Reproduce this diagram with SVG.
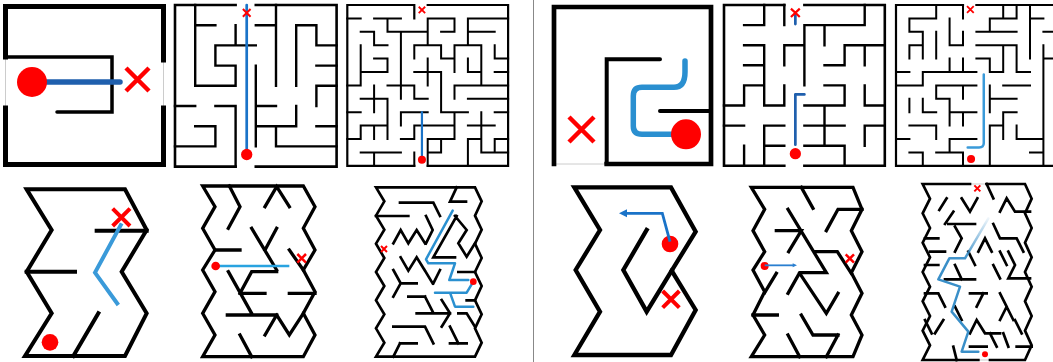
<svg xmlns="http://www.w3.org/2000/svg" width="1053" height="362" viewBox="0 0 1053 362">
<style>
.w{fill:none;stroke:#000;stroke-linecap:square;stroke-linejoin:miter;vector-effect:non-scaling-stroke}
.r{fill:none;stroke:#000;stroke-linecap:round;stroke-linejoin:miter;vector-effect:non-scaling-stroke}
.x{fill:none;stroke:#f00;stroke-linecap:butt;vector-effect:non-scaling-stroke}
.dot{fill:#f00}
.p{fill:none;stroke-linecap:round;stroke-linejoin:round;vector-effect:non-scaling-stroke}
.g{fill:none;stroke:#ccc;stroke-width:1;vector-effect:non-scaling-stroke}
</style>
<defs>
<linearGradient id="fade" gradientUnits="userSpaceOnUse" x1="0" y1="110" x2="0" y2="240">
<stop offset="0" stop-color="#3a8fc8" stop-opacity="0.05"/>
<stop offset="1" stop-color="#3a8fc8" stop-opacity="1"/>
</linearGradient>
</defs>
<rect width="1053" height="362" fill="#fff"/>
<line id="sep" x1="533.5" y1="0" x2="533.5" y2="362" stroke="#888" stroke-width="1"/>

<g id="m1">
<path class="g" d="M5.5 57V108M163.5 60V108"/>
<path class="w" stroke-width="5" d="M5.5 57V6.5H163.5V60M163.5 108V164.5H5.5V108"/>
<path class="r" stroke-width="3.5" d="M5.5 57H112V112H57"/>
<path class="p" stroke="#1f5fad" stroke-width="5.5" d="M32 82H120"/>
<circle class="dot" cx="32" cy="82" r="15"/>
<path class="x" stroke-width="4.5" d="M126 68L149 91M149 68L126 91"/>
</g>

<g id="m2" transform="translate(175 5) scale(20.2)">
<path class="w" stroke-width="2.6" d="M3 0H0V8H3M4 8H8V0H4"/>
<path class="w" stroke-width="2.4" d="M1 0V4H3V3H2V2H4M3 1V2M1 1H2M5 0V4M4 1H5M4 3V7M6 1V4M6 1H7V2H8M7 3H8M7 4H8M7 4V5M0 5H1M2 5H3V8M1 6H2V7M0 7H2M4 5H5M6 5V6H4M5 6V7H8M7 6H8"/>
<path class="p" stroke="#1a73c8" stroke-width="2.7" d="M3.55 0V7.4"/>
<circle class="dot" cx="3.55" cy="7.4" r="0.28"/>
<path class="x" stroke-width="2" d="M3.36 .2L3.74 .58M3.74 .2L3.36 .58"/>
</g>

<g id="m3" transform="translate(347.3 5) scale(13.4)">
<path class="w" stroke-width="2.2" d="M5 0H0V12H5M6 12H12V0H6M5 0V1"/>
<path class="w" stroke-width="2" d="M0 1H1M2 1H4M6 1H8M9 1H12M3 1V2M6 1V3M8 1V2M9 1V3M1 2H2M3 2H6M7 2H8M9 2H11M2 2V3H3M4 2V7M1 3V6M5 3H7M5 3V4M7 3V4H8M8 3H10M8 3V5M10 3V6M11 3V4H12M2 4H3V5M9 4V5H10M6 4V6M1 5H3M5 5H7M11 5H12M0 6H1M3 6H5M8 6H12M7 5V8M8 6V7M1 7H3M2 6V8M5 6V7H6M9 7H12M3 7V10M0 8H1M4 8H6M7 8H9M11 8H12M4 8V9M8 8V10M1 9H3M5 9H8M9 9H11M1 9V10H0M2 9V10M5 9V10H4M10 8V11M6 10H8M9 10H10M11 10H12M11 10V11M7 10V11M1 11H4M6 11H7M10 11H12M2 11V12M9 10V12M5 11V12M6 10V12"/>
<path class="p" stroke="#1a73c8" stroke-width="2.2" d="M5.57 8V11.4"/>
<circle class="dot" cx="5.57" cy="11.55" r="0.3"/>
<path class="x" stroke-width="1.8" d="M5.33 .13L5.81 .61M5.81 .13L5.33 .61"/>
</g>

<g id="m4">
<path class="g" d="M554 164H606.7"/>
<path class="w" stroke-width="4.7" d="M554 164V7H711V164H606.7"/>
<path class="r" stroke-width="4" d="M606.7 164V59.3H660M660 111H711"/>
<path class="p" stroke="#2a8fd0" stroke-width="5.5" d="M686 134.3H642Q633.3 134.3 633.3 126V96Q633.3 87.3 642 87.3H674Q685 87.3 685 72V61"/>
<circle class="dot" cx="686" cy="134.3" r="15"/>
<path class="x" stroke-width="4.5" d="M569 117L594 142M594 117L569 142"/>
</g>

<g id="m5" transform="translate(724 5) scale(20.1)">
<path class="w" stroke-width="2.6" d="M3 0H0V8H3M4 8H8V0H4"/>
<path class="w" stroke-width="2.4" d="M2 0V1H1M3 0V1M4 1H7V0M4 1V4M5 1V2M1 2H2M3 2H4M6 2H8M2 2V5H3V4M3 2V3M1 3H2M5 3H6V2M7 2V3M1 4H2M1 4V5H0M5 4H6V5M4 5H6M5 5V7M7 4V5H8M0 6H1M2 6H3M4 6H6M7 6H8M2 6V8M2 7H3M1 7V8M4 7H6V8M7 6V7"/>
<path class="p" stroke="#1f5fad" stroke-width="2.7" d="M3.55 6.95V4.45H4M3.55 .5V.95"/>
<circle class="dot" cx="3.55" cy="7.4" r="0.28"/>
<path class="x" stroke-width="2.2" d="M3.33 .18L3.77 .6M3.77 .18L3.33 .6"/>
</g>

<g id="m6" transform="translate(896 5) scale(13.4)">
<path class="w" stroke-width="2.2" d="M5 0H0V12H12.6M6 0H12.6"/>
<path class="w" stroke-width="2" d="M5 0V1M3 0V1H1V2H2M4 1V3H5V2M7 1H9M8 0V1M9 0V1M7 1V2M10 0V4M10 1H11M6 2H9M11 2H12.6M2 2V4M3 2V4M1 3H2M6 3H9M11 3V12M8 3V5M1 3V4M4 4V5M5 4V5M6 4H7V5M9 3V5M11 4H12.6M0 5H1M2 5H6M7 5H8M9 5H10M2 5V6H0M3 6H6M3 6V7H4V9M5 6V7M7 6V8M8 6H10M7 7H9M1 7V8M2 7V8H3M4 8H6M5 8V9M8 8V10M8 8H9M1 9H3M7 9H8M7 9V12M3 9V10M9 9V10M0 10H1M4 10H6M4 10V11M9 10H11M1 11H2M2 11V12M3 11H5M5 11V12M10 11H11"/>
<path class="p" stroke="#3a9ad9" stroke-width="2.5" d="M6.55 5.18V10.3Q6.55 10.63 6.2 10.63H5.35"/>
<circle class="dot" cx="5.6" cy="11.5" r="0.3"/>
<path class="x" stroke-width="1.8" d="M5.3 .08L5.8 .58M5.8 .08L5.3 .58"/>
</g>

<g id="m7" transform="translate(0 180) scale(0.33333)">
<path class="w" stroke-width="4" d="M80 28L155 150L80 275L155 400L75 528H375L440 400L365 275L440 150L375 28Z"/>
<path class="w" stroke-width="4" d="M290 152H440M80 275H225M295 400L220 528"/>
<path class="p" stroke="#3a9ad9" stroke-width="4" style="stroke-linecap:butt;stroke-linejoin:miter" d="M365 130L285 278L355 375"/>
<circle class="dot" cx="150" cy="487" r="25"/>
<path class="x" stroke-width="4" d="M338 86L390 138M390 86L338 138"/>
</g>

<g id="m8" transform="translate(170 180) scale(0.33333)">
<path class="w" stroke-width="3.3" d="M98 18L135 80L98 145L135 210L98 270L135 335L98 400L135 465L98 530H400L435 465L400 400L435 335L400 270L435 210L400 145L435 80L400 18Z"/>
<path class="w" stroke-width="3.3" d="M178 18L210 80L175 145M285 80L320 20L358 80M245 145L320 270M285 210L320 145M135 210H210M358 210L400 270M175 275L245 400M210 340L245 275H320M210 340H285M358 340H435M172 405H320M320 405L358 465L400 400M320 405L285 465M210 465L245 530"/>
<path class="p" stroke="#29a3e0" stroke-width="2.5" style="stroke-linecap:butt" d="M137 258H358"/>
<circle class="dot" cx="137" cy="258" r="13"/>
<path class="x" stroke-width="2.5" d="M382 222L408 248M408 222L382 248"/>
</g>

<g id="m9" transform="translate(340 180) scale(0.33333)">
<path class="w" stroke-width="2.7" d="M108 22L133 64L108 107L133 149L108 191L133 234L108 276L133 318L108 361L133 403L108 445L133 488L108 530H405L425 488L405 445L425 403L405 361L425 318L405 276L425 234L405 191L425 149L405 107L425 64L405 22Z"/>
<path class="w" stroke-width="2.7" d="M180 68H280L300 108M108 108H205M350 22L330 65H378M258 108L278 150L258 190M160 190L182 150L205 190L230 150L255 190M345 108L380 150L355 190L380 230L405 190M182 232L205 272L230 232L255 272M350 108L280 232H345M160 270L182 310L160 350M182 310H230M205 350H255M255 272L278 310M300 270L280 310M255 350L278 395M230 400H330M305 360L330 400L305 440M355 400H380L405 440M160 440H255L280 490M330 490H380M330 440L355 490M180 490H230M180 490L160 530M355 276H405M380 361H405"/>
<path class="p" stroke="#2a90d0" stroke-width="2.5" d="M338 92L258 238L265 250H345L328 300H385M400 305L380 338H285M330 338L345 380H400"/>
<circle class="dot" cx="400" cy="305" r="10"/>
<path class="x" stroke-width="2" d="M123 198L141 216M141 198L123 216"/>
</g>

<g id="m10" transform="translate(545 180) scale(0.33333)">
<path class="w" stroke-width="4.3" d="M88 22H378L452 155L380 272L452 390L378 525H88L165 395L92 270L165 150Z"/>
<path class="w" stroke-width="4.3" d="M305 150L235 270L305 395L380 272"/>
<circle class="dot" cx="375" cy="192" r="25"/>
<path class="p" stroke="#1a73c8" stroke-width="2.8" style="stroke-linecap:butt;stroke-linejoin:miter" d="M375 185L352 100H242"/>
<path fill="#1a73c8" d="M222 100L246 88V112Z"/>
<path class="x" stroke-width="4" d="M353 333L403 383M403 333L353 383"/>
</g>

<g id="m11" transform="translate(718 180) scale(0.33333)">
<path class="w" stroke-width="3.3" d="M100 22L140 88L105 152L140 215L105 270L140 335L105 405L140 465L100 530H405L432 465L400 405L432 340L400 278L432 215L400 152L432 88L405 22Z"/>
<path class="w" stroke-width="3.3" d="M250 22L285 85M210 88L325 278H245L210 340M175 152H250L212 215M325 152L360 88H432M290 215H358L400 280M245 280L325 400L360 340M175 280L140 338M105 405H178M250 405L285 465H360M210 465L245 530M325 530L360 465"/>
<circle class="dot" cx="140" cy="258" r="12"/>
<path class="p" stroke="#2a7fd0" stroke-width="1.8" style="stroke-linecap:butt" d="M140 256H226"/>
<path fill="#2a7fd0" d="M237 256L224 250V262Z"/>
<path class="x" stroke-width="2.5" d="M383 223L408 248M408 223L383 248"/>
</g>

<g id="m12" transform="translate(890 180) scale(0.33333)">
<path class="g" d="M240 12H290M265 540H300"/>
<path class="w" stroke-width="2.7" d="M240 12H98L120 56L98 100L120 144L98 188L120 232L98 276L120 320L98 364L120 408L98 452L120 496L98 540H265M300 540H405L425 496L405 452L425 408L405 364L425 320L405 276L425 232L405 188L425 144L405 100L425 56L405 12H290"/>
<path class="w" stroke-width="2.7" d="M148 90L170 55M215 55L240 95L262 55M290 12L310 55M330 95L350 55L375 95H420M165 132L190 95M175 132H255M195 140L215 175L195 215M105 175H145M265 215L285 175L305 215M310 132L330 175H380L400 215M120 215H165M235 215L255 255M330 215L350 255M355 215L375 255L355 295H420M105 255H145M165 298H255M195 255L215 298M310 255L330 295M105 340H145L165 380M240 340H290M330 340L350 380M195 380L215 420M330 420L350 380L370 420M105 420L125 460M135 460L160 420M240 460L260 420L285 460H330M300 460L320 500M240 500H290M340 460L355 500M380 500H425M190 500L200 540M260 380L280 340M375 420L395 460"/>
<path class="p" stroke="url(#fade)" stroke-width="2.5" d="M295 115L225 235H178L145 298L210 320L185 395L235 455L215 515H265"/>
<circle class="dot" cx="285" cy="523" r="9"/>
<path class="x" stroke-width="2" d="M253 16L271 34M271 16L253 34"/>
</g>
</svg>
